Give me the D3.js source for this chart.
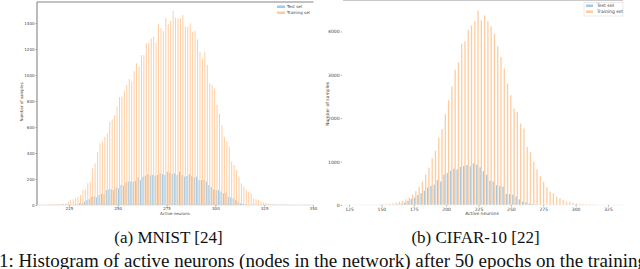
<!DOCTYPE html>
<html><head><meta charset="utf-8">
<script src="https://cdn.jsdelivr.net/npm/d3@7"></script>
<style>body{margin:0;background:#fff;overflow:hidden}svg{display:block}</style>
</head><body>
<svg id="c" width="640" height="269"></svg>
<script>
const seriesNames = ["Test set", "Training set"];
const seriesColors = ["#1f77b4", "#ff7f0e"];

// MNIST histogram (100 bins)
const mnistBinStart = 213.75, mnistBinWidth = 1.25;
const mnistTest = [0,0,0,0,0,0,0,0,0,0,
0,0,2,13,13,26,38,44,64,64,
59,77,85,85,115,120,120,115,136,128,
154,149,172,180,180,180,187,213,192,218,
226,238,228,231,226,231,244,238,231,256,
249,238,244,231,256,231,218,223,238,223,
213,218,192,192,192,180,154,136,120,115,
115,103,90,95,64,59,51,38,26,13,
8,4,2,0,0,0,0,0,0,0,
0,0,0,0,0,0,0,0,0,0];
const mnistTrain = [2,3,4,5,6,8,10,12,25,38,
44,52,59,77,115,120,167,180,282,320,
410,474,487,525,551,641,659,692,756,830,
833,879,923,969,951,1030,1090,1063,1153,1153,
1243,1248,1282,1294,1248,1392,1359,1338,1438,1392,
1417,1492,1443,1436,1436,1461,1371,1371,1397,1333,
1340,1274,1179,1128,1179,1077,936,923,897,770,
700,615,525,487,448,333,308,269,218,167,
141,115,103,90,51,44,38,26,20,18,
10,8,6,5,4,3,3,2,2,1];
const mnistXTicks = [225, 250, 275, 300, 325, 350];
const mnistYTicks = [0, 200, 400, 600, 800, 1000, 1200, 1400];

// CIFAR-10 histogram (67 bins)
const cifarBinStart = 147.0, cifarBinWidth = 2.53;
const cifarTest = [0,0,0,0,2,5,15,30,55,90,
140,170,230,270,330,400,440,470,580,540,
700,740,790,840,820,880,900,920,890,960,
930,870,780,700,560,540,460,440,420,260,
250,240,200,130,80,60,35,20,10,5,
0,0,0,0,0,0,0,0,0,0,
0,0,0,0,0,0,0];
const cifarTrain = [8,12,18,26,36,52,77,95,130,175,
240,320,420,540,700,860,1080,1250,1550,1750,
2092,2414,2736,3120,3294,3718,3777,4039,4138,4237,
4483,4253,4368,4237,4115,3947,3655,3409,3143,2798,
2529,2223,2150,1878,1763,1340,1225,995,821,667,
536,407,306,269,191,154,115,76,70,50,
38,30,26,20,14,10,7];
const cifarXTicks = [125, 150, 175, 200, 225, 250, 275, 300, 325];
const cifarYTicks = [0, 1000, 2000, 3000, 4000];

const xTitle = "Active neurons";
const yTitle = "Number of samples";
const captions = ["(a) MNIST [24]", "(b) CIFAR-10 [22]"];
const figCaption = "1: Histogram of active neurons (nodes in the network) after 50 epochs on the training set";

const svg = d3.select("#c");
const FONT = "DejaVu Sans, sans-serif";

function panel(o) {
  const g = svg.append("g");
  const x = d3.scaleLinear().domain(o.xDomain).range([o.left, o.right]);
  const y = d3.scaleLinear().domain(o.yDomain).range([o.bottom, o.top]);
  const alpha = 0.4;
  [o.test, o.train].forEach((vals, s) => {
    g.append("g").selectAll("rect").data(vals).join("rect")
      .attr("x", (d, i) => x(o.binStart + (i + 0.1 + 0.4 * s) * o.binWidth))
      .attr("width", (d, i) => x(o.binStart + (i + 0.5 + 0.4 * s) * o.binWidth) - x(o.binStart + (i + 0.1 + 0.4 * s) * o.binWidth))
      .attr("y", d => y(d))
      .attr("height", d => y(0) - y(d))
      .attr("fill", seriesColors[s]).attr("fill-opacity", alpha);
  });
  if (o.frame) {
    g.append("line").attr("x1", o.left).attr("x2", o.right).attr("y1", o.top).attr("y2", o.top).attr("stroke", o.topColor).attr("stroke-width", 0.8);
    if (o.leftSpine) g.append("line").attr("x1", o.left).attr("x2", o.left).attr("y1", o.top).attr("y2", o.bottom).attr("stroke", "#555").attr("stroke-width", 0.8);
    g.append("line").attr("x1", o.left).attr("x2", o.right).attr("y1", o.bottom).attr("y2", o.bottom).attr("stroke", o.bottomColor).attr("stroke-width", 0.6);
  }
  const ax = g.append("g").attr("transform", `translate(0,${o.bottom})`)
    .call(d3.axisBottom(x).tickValues(o.xTicks).tickSize(1.5).tickPadding(1).tickFormat(d3.format("d")));
  const ay = g.append("g").attr("transform", `translate(${o.axisX},0)`)
    .call(d3.axisLeft(y).tickValues(o.yTicks).tickSize(1.5).tickPadding(1).tickFormat(d3.format("d")));
  [ax, ay].forEach(a => {
    a.select(".domain").remove();
    a.selectAll("line").attr("stroke", "#666").attr("stroke-width", 0.5);
    a.selectAll("text").attr("font-family", FONT).attr("font-size", o.fs).attr("fill", "#444");
  });
  g.append("text").attr("x", o.xTitleX).attr("y", o.xTitleY).attr("text-anchor", "middle")
    .attr("font-family", FONT).attr("font-size", o.fs).attr("fill", "#444").text(xTitle);
  g.append("text").attr("transform", `translate(${o.yTitleX},${o.yTitleY}) rotate(-90)`).attr("text-anchor", "middle")
    .attr("font-family", FONT).attr("font-size", o.fs).attr("fill", "#444").text(yTitle);
  const L = o.legend;
  if (L.box) g.append("rect").attr("x", L.bx).attr("y", L.by).attr("width", L.bw).attr("height", L.bh)
    .attr("fill", "#fff").attr("stroke", "#ddd").attr("stroke-width", 0.6);
  seriesNames.forEach((n, s) => {
    g.append("rect").attr("x", L.px).attr("y", L.py + s * L.dy).attr("width", L.pw).attr("height", 2.5)
      .attr("fill", seriesColors[s]).attr("fill-opacity", alpha);
    g.append("text").attr("x", L.tx).attr("y", L.py + s * L.dy + 2.3)
      .attr("font-family", FONT).attr("font-size", o.fs).attr("fill", "#444").text(n);
  });
}

panel({
  left: 37, right: 313.5, top: 2, bottom: 205, axisX: 37,
  xDomain: [208.6, 350.3], yDomain: [0, 1562],
  binStart: mnistBinStart, binWidth: mnistBinWidth,
  test: mnistTest, train: mnistTrain,
  xTicks: mnistXTicks, yTicks: mnistYTicks,
  frame: true, leftSpine: true, topColor: "#666", bottomColor: "#ccc", fs: 4,
  xTitleX: 175, xTitleY: 214.5, yTitleX: 23, yTitleY: 102,
  legend: { box: false, px: 277, py: 5.5, dy: 6, pw: 8, tx: 287 }
});

panel({
  left: 343, right: 623, top: 0.5, bottom: 205, axisX: 342,
  xDomain: [120.35, 336.6], yDomain: [0, 4713],
  binStart: cifarBinStart, binWidth: cifarBinWidth,
  test: cifarTest, train: cifarTrain,
  xTicks: cifarXTicks, yTicks: cifarYTicks,
  frame: true, leftSpine: false, topColor: "#bbb", bottomColor: "#eee", fs: 4.5,
  xTitleX: 482, xTitleY: 214.5, yTitleX: 329, yTitleY: 104,
  legend: { box: true, bx: 584, by: 2.5, bw: 39, bh: 13.5, px: 586, py: 4.5, dy: 6, pw: 7, tx: 597 }
});

const cap = svg.append("g").attr("font-family", "Liberation Serif, Times New Roman, serif").attr("fill", "#111");
cap.append("text").attr("x", 168.5).attr("y", 243).attr("text-anchor", "middle").attr("font-size", 17).text(captions[0]);
cap.append("text").attr("x", 475.5).attr("y", 243).attr("text-anchor", "middle").attr("font-size", 17).text(captions[1]);
cap.append("text").attr("x", -1).attr("y", 267).attr("font-size", 19).text(figCaption);
</script>
</body></html>
